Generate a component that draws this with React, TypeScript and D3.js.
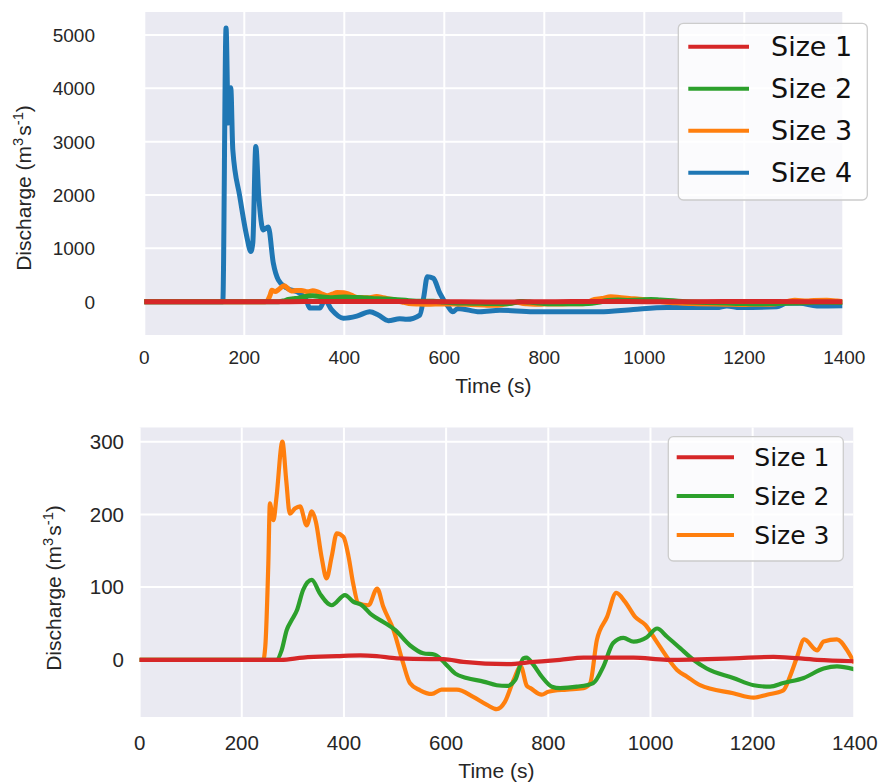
import React from "react";
import * as d3 from "d3";

// discharge series (time in s, Q in m3/s)
const xTicks = [0, 200, 400, 600, 800, 1000, 1200, 1400];
const topYTicks = [0, 1000, 2000, 3000, 4000, 5000];
const bottomYTicks = [0, 100, 200, 300];

const size1Time = [0, 277, 320, 386, 432, 464, 503, 569, 595, 634, 719, 771, 823, 869, 967, 1032, 1162, 1241, 1326, 1398];
const size1Q = [0, 0, 3, 5, 6, 5, 2, 1, 1, -3, -6, -3, 0, 3, 3, 0, 2, 4, 0, -2];

const size2Time = [0, 268, 278, 288, 298, 308, 320, 337, 353, 376, 402, 418, 435, 454, 477, 500, 529, 555, 578, 598, 618, 640, 673, 699, 719, 735, 751, 757, 771, 787, 807, 823, 856, 888, 908, 927, 947, 967, 993, 1013, 1032, 1058, 1084, 1110, 1162, 1202, 1234, 1260, 1300, 1339, 1365, 1398];
const size2Q = [0, 0, 13, 41, 55, 68, 96, 110, 91, 75, 89, 80, 75, 62, 52, 41, 20, 9, 7, -5, -19, -25, -30, -35, -36, -28, 2, 3, -7, -23, -37, -39, -37, -32, -9, 23, 30, 25, 31, 43, 32, 16, 0, -12, -25, -35, -37, -32, -25, -12, -9, -13];

const size3Time = [0, 242, 246, 252, 255, 262, 268, 279.5, 287, 294, 304, 314, 327, 337, 345, 356, 366, 376, 386, 399, 409, 418, 428, 448, 465, 477, 497, 516, 529, 549, 572, 591, 621, 653, 680, 699, 715, 732, 746, 758, 765, 787, 800, 836, 869, 882, 895, 915, 933, 950, 970, 990, 1012, 1032, 1052, 1071, 1097, 1162, 1202, 1228, 1260, 1273, 1287, 1301, 1326, 1339, 1365, 1385, 1398];
const size3Q = [0, 0, 18, 133, 215, 192, 224, 300, 247, 201, 208, 211, 185, 204, 190, 142, 112, 142, 174, 169, 142, 105, 78, 75, 98, 73, 41, -5, -32, -42, -47, -41, -41, -51, -62, -68, -58, -28, -9, -36, -39, -48, -44, -41, -39, -32, 27, 59, 92, 80, 59, 48, 25, 4, -14, -23, -35, -46, -52, -48, -42, -23, 4, 28, 13, 25, 28, 13, -3];

const size4Time = [0, 157, 163.5, 168, 173, 177, 191, 205, 213, 217, 223, 229, 238, 248, 258, 268, 285, 311, 324, 331, 351, 361, 375, 398, 425, 451, 468, 488, 511, 525, 551, 559, 566, 578, 591, 608, 617, 627, 671, 711, 778, 911, 978, 1045, 1145, 1165, 1191, 1265, 1285, 1311, 1345, 1398];
const size4Q = [0, 0, 5130, 3350, 4010, 2850, 1970, 1220, 940, 1100, 2910, 1970, 1345, 1400, 725, 410, 255, 160, 30, -120, -120, 30, -155, -310, -270, -190, -250, -355, -320, -330, -250, 95, 470, 440, 160, -95, -190, -125, -190, -160, -190, -190, -145, -110, -110, -80, -110, -95, -30, -30, -80, -75];

const colors = ["#d62728", "#2ca02c", "#ff7f0e", "#1f77b4"];
const names = ["Size 1", "Size 2", "Size 3", "Size 4"];

type Series = { name: string; color: string; t: number[]; q: number[] };

const allSeries: Series[] = [
  { name: names[0], color: colors[0], t: size1Time, q: size1Q },
  { name: names[1], color: colors[1], t: size2Time, q: size2Q },
  { name: names[2], color: colors[2], t: size3Time, q: size3Q },
  { name: names[3], color: colors[3], t: size4Time, q: size4Q },
];

const tickFont = "'Liberation Sans', Arial, sans-serif";
const legendFont = "'DejaVu Sans', sans-serif";
const ink = "#262626";

type PanelProps = {
  id: string;
  rect: { left: number; right: number; top: number; bottom: number };
  xDomain: [number, number];
  yDomain: [number, number];
  yTicks: number[];
  series: Series[];
  tickSize: number;
  labelSize: number;
  yTickRight: number;
  xTickBaseline: number;
  xLabelBaseline: number;
  yLabel: { x: number; y: number };
  lineWidth: number;
  legend: { left: number; right: number; top: number; bottom: number; row0: number; gap: number; lx0: number; lx1: number; tx: number; fs: number };
};

function Panel(p: PanelProps) {
  const { rect } = p;
  const x = d3.scaleLinear().domain(p.xDomain).range([rect.left, rect.right]);
  const y = d3.scaleLinear().domain(p.yDomain).range([rect.bottom, rect.top]);

  const lg = p.legend;
  // lines are drawn in reverse so Size 1 sits on top
  const drawOrder = [...p.series].reverse();
  const ls = p.labelSize;

  return (
    <g>
      <defs>
        <clipPath id={p.id + "-clip"}>
          <rect x={rect.left} y={rect.top} width={rect.right - rect.left} height={rect.bottom - rect.top} />
        </clipPath>
      </defs>
      <rect x={rect.left} y={rect.top} width={rect.right - rect.left} height={rect.bottom - rect.top} fill="#eaeaf2" />
      {xTicks.map((t) => (
        <line key={"gx" + t} x1={x(t)} x2={x(t)} y1={rect.top} y2={rect.bottom} stroke="#fff" strokeWidth={2} />
      ))}
      {p.yTicks.map((v) => (
        <line key={"gy" + v} x1={rect.left} x2={rect.right} y1={y(v)} y2={y(v)} stroke="#fff" strokeWidth={2} />
      ))}
      <g clipPath={`url(#${p.id}-clip)`}>
        {drawOrder.map((s) => {
          const gen = d3
            .line<number>()
            .x((_, i) => x(s.t[i]))
            .y((d) => y(d))
            .curve(d3.curveMonotoneX);
          return (
            <path key={s.name} d={gen(s.q) || ""} fill="none" stroke={s.color} strokeWidth={p.lineWidth} strokeLinejoin="round" strokeLinecap="round" />
          );
        })}
      </g>
      {xTicks.map((t) => (
        <text key={"tx" + t} x={x(t)} y={p.xTickBaseline} textAnchor="middle" fontFamily={tickFont} fontSize={p.tickSize} fill={ink}>
          {t}
        </text>
      ))}
      {p.yTicks.map((v) => (
        <text key={"ty" + v} x={p.yTickRight} y={y(v)} dy="0.36em" textAnchor="end" fontFamily={tickFont} fontSize={p.tickSize} fill={ink}>
          {v}
        </text>
      ))}
      <text x={(rect.left + rect.right) / 2} y={p.xLabelBaseline} textAnchor="middle" fontFamily={tickFont} fontSize={ls} fill={ink}>
        Time (s)
      </text>
      <text transform={`translate(${p.yLabel.x},${p.yLabel.y}) rotate(-90)`} textAnchor="middle" fontFamily={tickFont} fontSize={ls} fill={ink}>
        Discharge (m
        <tspan dy={-ls * 0.38} fontSize={ls * 0.7}>3</tspan>
        <tspan dy={ls * 0.38} dx={2}>s</tspan>
        <tspan dy={-ls * 0.38} fontSize={ls * 0.7}>-1</tspan>
        <tspan dy={ls * 0.38}>)</tspan>
      </text>
      <rect
        x={lg.left}
        y={lg.top}
        width={lg.right - lg.left}
        height={lg.bottom - lg.top}
        rx={5}
        fill="#fff"
        fillOpacity={0.8}
        stroke="#cccccc"
        strokeWidth={1.3}
      />
      {p.series.map((s, i) => {
        const cy = lg.row0 + i * lg.gap;
        return (
          <g key={"lg" + s.name}>
            <line x1={lg.lx0} x2={lg.lx1} y1={cy} y2={cy} stroke={s.color} strokeWidth={4} />
            <text x={lg.tx} y={cy} dy="0.36em" fontFamily={legendFont} fontSize={lg.fs} fill="#111">
              {s.name}
            </text>
          </g>
        );
      })}
    </g>
  );
}

export default function App() {
  return (
    <svg width={880} height={783} style={{ display: "block", position: "absolute", left: 0, top: 0, background: "#fff" }}>
      <Panel
        id="top"
        rect={{ left: 144.3, right: 842.3, top: 12, bottom: 335 }}
        xDomain={[0, 1396]}
        yDomain={[-624, 5431]}
        yTicks={topYTicks}
        series={allSeries}
        tickSize={19}
        labelSize={21}
        yTickRight={95}
        xTickBaseline={364}
        xLabelBaseline={393}
        yLabel={{ x: 31, y: 188 }}
        lineWidth={5}
        legend={{ left: 678.3, right: 867.3, top: 23.3, bottom: 200, row0: 46.7, gap: 42, lx0: 688.3, lx1: 749, tx: 771, fs: 27 }}
      />
      <Panel
        id="bottom"
        rect={{ left: 139.6, right: 853.3, top: 427.5, bottom: 717 }}
        xDomain={[0, 1397]}
        yDomain={[-78.7, 319.5]}
        yTicks={bottomYTicks}
        series={allSeries.slice(0, 3)}
        tickSize={20.5}
        labelSize={21}
        yTickRight={124}
        xTickBaseline={750}
        xLabelBaseline={778}
        yLabel={{ x: 61, y: 588 }}
        lineWidth={4.2}
        legend={{ left: 668.3, right: 843.3, top: 436.7, bottom: 561, row0: 457.3, gap: 38.8, lx0: 676.7, lx1: 734, tx: 754.3, fs: 25 }}
      />
    </svg>
  );
}
